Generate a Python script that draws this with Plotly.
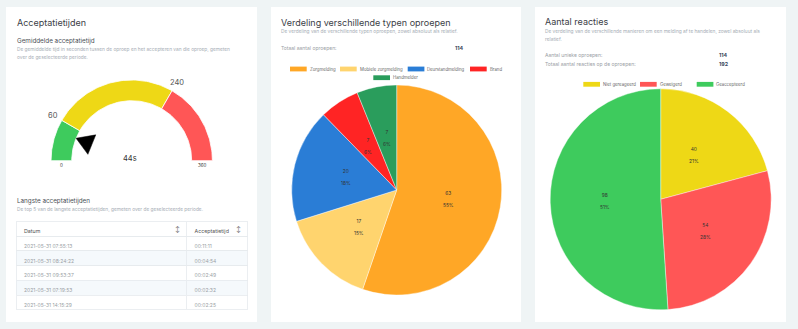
import math
import plotly.graph_objects as go

W, H = 798, 329
FONT = "Inter, Open Sans, sans-serif"

# ---------------- data ----------------
gauge_range = [0, 360]
gauge_thresholds = [60, 240]
gauge_value = 44
gauge_unit = "s"
gauge_colors = ["#3ECB5D", "#EED816", "#FF5656"]

table_header = ["Datum", "Acceptatietijd"]
table_dates = ["2021-05-31 07:55:13", "2021-05-31 08:24:22", "2021-05-31 09:53:37",
               "2021-05-31 07:19:53", "2021-05-31 14:15:29"]
table_times = ["00:11:11", "00:04:54", "00:02:49", "00:02:32", "00:02:25"]

call_types = ["Zorgmelding", "Mobiele zorgmelding", "Deurstandmelding", "Brand", "Handmelder"]
call_counts = [63, 17, 20, 7, 7]
call_colors = ["#FFA726", "#FFD46E", "#2A7DD6", "#FF2424", "#2A9D5C"]

reaction_types = ["Niet gereageerd", "Geweigerd", "Geaccepteerd"]
reaction_counts = [40, 54, 98]
reaction_colors = ["#EED816", "#FF5656", "#3ECB5D"]
unique_calls = 114

# ---------------- figure ----------------
fig = go.Figure()
annos = []
shapes = []


def txt(x, y, text, size, color, xanchor="left", bold=False):
    if bold:
        text = "<b>" + text + "</b>"
    annos.append(dict(x=x, y=y, xref="x", yref="y", text=text, showarrow=False,
                      xanchor=xanchor, yanchor="middle", borderpad=0,
                      font=dict(family=FONT, size=size, color=color)))


# cards
for x0, x1 in [(6, 257), (271, 521), (535, 786)]:
    shapes.append(dict(type="rect", xref="x", yref="y", x0=x0, x1=x1, y0=7, y1=322,
                       fillcolor="white", line=dict(width=0), layer="below"))

TITLE_C = "#3b4046"
SUB_C = "#4a4f55"
DESC_C = "#a6adb5"
LBL_C = "#9aa0a6"
VAL_C = "#3d4a5e"

# ---- card 1 ----
txt(16, 22, "Acceptatietijden", 9, TITLE_C)
txt(16, 40.7, "Gemiddelde acceptatietijd", 6.3, SUB_C)
txt(16, 49.3, "De gemiddelde tijd in seconden tussen de oproep en het accepteren van die oproep, gemeten", 4.8, DESC_C)
txt(16, 57.3, "over de geselecteerde periode.", 4.8, DESC_C)
txt(16, 200.7, "Langste acceptatietijden", 6.3, SUB_C)
txt(16, 209.3, "De top 5 van de langste acceptatietijden, gemeten over de geselecteerde periode.", 4.8, DESC_C)

# gauge
cx, cy, r_out, r_in = 131.7, 160.7, 80.7, 60.0
vmin, vmax = gauge_range


def ang(v):
    return math.pi * (1 - (v - vmin) / (vmax - vmin))


def pt(v, r):
    a = ang(v)
    return cx + r * math.cos(a), cy - r * math.sin(a)


bounds = [vmin] + gauge_thresholds + [vmax]
for i in range(len(bounds) - 1):
    a, b = bounds[i], bounds[i + 1]
    n = 60
    vs = [a + (b - a) * k / n for k in range(n + 1)]
    xs = [pt(v, r_out)[0] for v in vs] + [pt(v, r_in)[0] for v in reversed(vs)]
    ys = [pt(v, r_out)[1] for v in vs] + [pt(v, r_in)[1] for v in reversed(vs)]
    xs.append(xs[0]); ys.append(ys[0])
    fig.add_trace(go.Scatter(x=xs, y=ys, mode="lines", fill="toself",
                             fillcolor=gauge_colors[i], line=dict(color="white", width=0.8),
                             hoverinfo="skip", showlegend=False))

# pointer
av = ang(gauge_value)
tip = (cx + r_in * math.cos(av), cy - r_in * math.sin(av))
rb, hw = r_in - 17, 10.5
bx, by = cx + rb * math.cos(av), cy - rb * math.sin(av)
px_, py_ = -math.sin(av), -math.cos(av)
p1 = (bx + hw * px_, by + hw * py_)
p2 = (bx - hw * px_, by - hw * py_)
fig.add_trace(go.Scatter(x=[tip[0], p1[0], p2[0], tip[0]], y=[tip[1], p1[1], p2[1], tip[1]],
                         mode="lines", fill="toself", fillcolor="black",
                         line=dict(color="black", width=0.5), hoverinfo="skip", showlegend=False))

for t in gauge_thresholds:
    x, y = pt(t, r_out + 10)
    txt(x, y, str(t), 7.5, "#555", xanchor="center")
for t in gauge_range:
    x, y = pt(t, (r_in + r_out) / 2)
    txt(x, y + 5, str(t), 4.5, "#333", xanchor="center")
txt(cx - 2, cy - 2.5, f"{gauge_value}{gauge_unit}", 7.5, "#333", xanchor="center")

# table
tx0, tx1, ty0, ty1 = 16, 247.3, 221, 310.5
n_rows = len(table_dates)
row_fill = ["white" if i % 2 == 0 else "#f5f9fc" for i in range(n_rows)]
fig.add_trace(go.Table(
    domain=dict(x=[tx0 / W, tx1 / W], y=[1 - ty1 / H, 1 - ty0 / H]),
    columnwidth=[170.7, 60.6],
    header=dict(values=table_header, height=15, fill_color="white",
                line=dict(color="#e6eaee", width=0.8), align="left",
                font=dict(family=FONT, size=5.3, color="#555")),
    cells=dict(values=[table_dates, table_times], height=14.8,
               fill_color=[row_fill, row_fill],
               line=dict(color="#e6eaee", width=0.8), align="left",
               font=dict(family=FONT, size=5, color="#9a9fa5")),
))
for xs_ in [177.7, 238.7]:
    txt(xs_, 228.5, "↕", 6, "#666", xanchor="center")

# ---- card 2 ----
txt(280, 22, "Verdeling verschillende typen oproepen", 9, TITLE_C)
txt(280, 31.3, "De verdeling van de verschillende typen oproepen, zowel absoluut als relatief.", 4.8, DESC_C)
txt(280, 47.7, "Totaal aantal oproepen:", 5, LBL_C)
txt(454, 47.7, str(sum(call_counts)), 5.3, VAL_C, bold=True)


def legend(items, colors, xs, ys):
    for lab, col, x, y in zip(items, colors, xs, ys):
        shapes.append(dict(type="rect", xref="x", yref="y", x0=x, x1=x + 16.7, y0=y - 2.4, y1=y + 2.4,
                           fillcolor=col, line=dict(width=0)))
        txt(x + 18.5, y, lab, 4.3, "#666")


legend(call_types, call_colors, [290, 340, 407.7, 470, 373.3], [69, 69, 69, 69, 77.7])


def pie(values, colors, ccx, ccy, r):
    fig.add_trace(go.Pie(values=values, labels=[str(i) for i in range(len(values))],
                         domain=dict(x=[(ccx - r) / W, (ccx + r) / W], y=[1 - (ccy + r) / H, 1 - (ccy - r) / H]),
                         sort=False, direction="clockwise", rotation=0,
                         marker=dict(colors=colors, line=dict(color="white", width=0.4)),
                         textinfo="none", hoverinfo="skip", showlegend=False))
    tot = sum(values)
    cum = 0
    for v in values:
        mid = (cum + v / 2) / tot * 2 * math.pi
        cum += v
        x = ccx + r / 2 * math.sin(mid)
        y = ccy - r / 2 * math.cos(mid)
        txt(x, y, f"{v}<br><br>{round(v / tot * 100)}%", 4.8, "#333", xanchor="center")


pie(call_counts, call_colors, 396.7, 190, 105)

# ---- card 3 ----
txt(544, 21.7, "Aantal reacties", 9, TITLE_C)
txt(544, 31.3, "De verdeling van de verschillende manieren om een melding af te handelen, zowel absoluut als", 4.8, DESC_C)
txt(544, 39.3, "relatief.", 4.8, DESC_C)
txt(544, 55.3, "Aantal unieke oproepen:", 5, LBL_C)
txt(718, 55.3, str(unique_calls), 5.3, VAL_C, bold=True)
txt(544, 64.3, "Totaal aantal reacties op de oproepen:", 5, LBL_C)
txt(718, 64.3, str(sum(reaction_counts)), 5.3, VAL_C, bold=True)
legend(reaction_types, reaction_colors, [583.3, 640, 696.7], [84.3, 84.3, 84.3])
pie(reaction_counts, reaction_colors, 660.7, 199.3, 110.5)

fig.update_layout(
    width=W, height=H, margin=dict(l=0, r=0, t=0, b=0),
    paper_bgcolor="#eff4f5", plot_bgcolor="rgba(0,0,0,0)",
    xaxis=dict(range=[0, W], domain=[0, 1], visible=False, fixedrange=True),
    yaxis=dict(range=[H, 0], domain=[0, 1], visible=False, fixedrange=True),
    shapes=shapes, annotations=annos, showlegend=False,
    font=dict(family=FONT),
)
fig.write_html("out.html", config={"displayModeBar": False})
